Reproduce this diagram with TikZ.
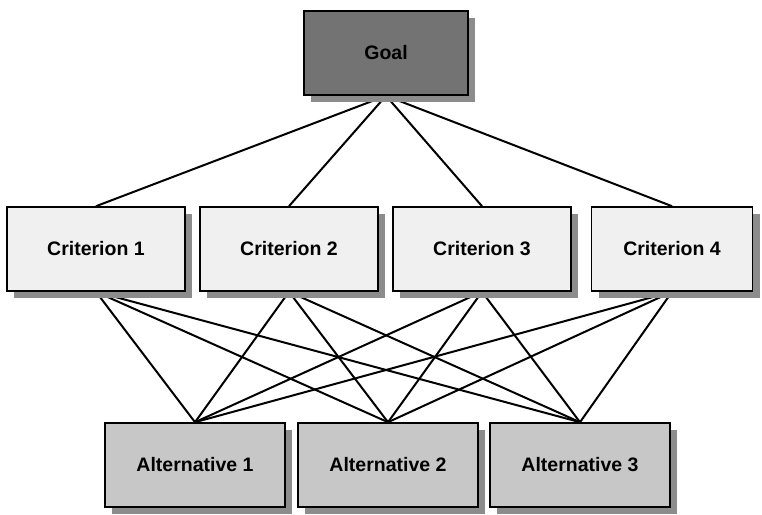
\documentclass[tikz,border=0pt]{standalone}
\usepackage{fontspec}
\setmainfont{Liberation Sans}
\usetikzlibrary{backgrounds}
\begin{document}
\begin{tikzpicture}[x=1pt,y=-1pt,
  box/.style={draw=black, line width=1.6pt, minimum height=84pt, inner sep=0pt,
    font=\fontsize{19.5}{22}\selectfont\bfseries},
  shadowed/.style={preaction={fill=black!45, draw=none, transform canvas={shift={(7pt,-7pt)}}}},
  goalbox/.style={box, shadowed, fill=black!55, minimum width=164pt},
  critbox/.style={box, shadowed, fill=black!6, minimum width=178pt},
  altbox/.style={box, shadowed, fill=black!22, minimum width=180pt},
  link/.style={line width=2pt}]
\useasboundingbox (0,0) rectangle (762,514);
\node[goalbox] (g) at (386,53) {Goal};
\node[critbox] (c1) at (96,249) {Criterion 1};
\node[critbox] (c2) at (289,249) {Criterion 2};
\node[critbox] (c3) at (482,249) {Criterion 3};
\node[critbox, minimum width=161pt] (c4) at (672,249) {Criterion 4};
\node[altbox] (a1) at (195,465) {Alternative 1};
\node[altbox] (a2) at (388,465) {Alternative 2};
\node[altbox] (a3) at (580,465) {Alternative 3};
\begin{scope}[on background layer]
\foreach \c in {c1,c2,c3,c4}{
  \draw[link] (g.south) -- (\c.north);
  \foreach \a in {a1,a2,a3}{
    \draw[link] (\c.south) -- (\a.north);
  }
}
\end{scope}
\end{tikzpicture}
\end{document}
